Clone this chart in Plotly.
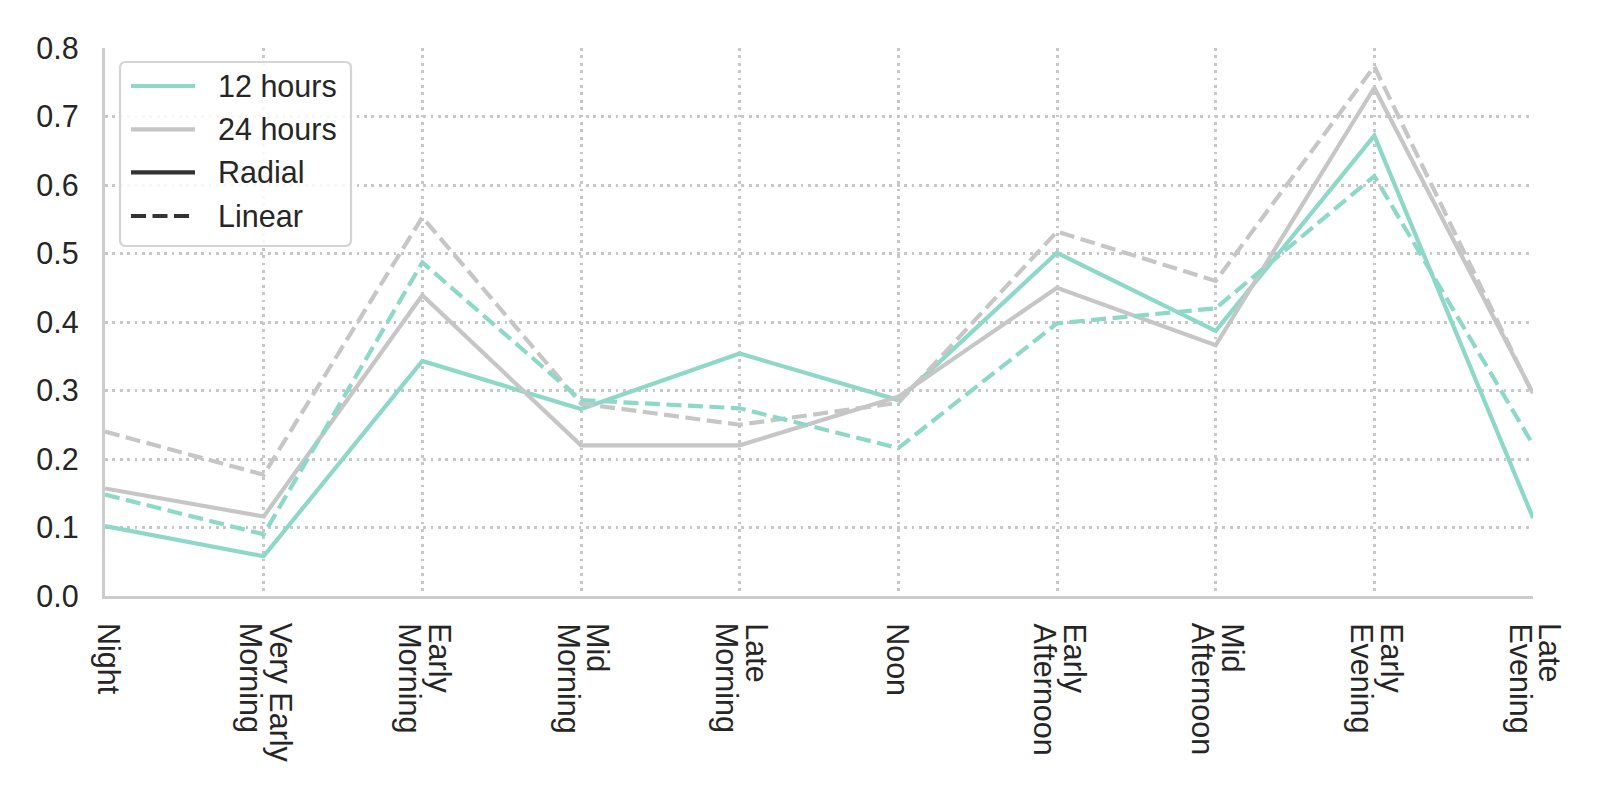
import plotly.graph_objects as go

# ---- data ----
categories = ["Night", "Very Early Morning", "Early Morning", "Mid Morning", "Late Morning",
              "Noon", "Early Afternoon", "Mid Afternoon", "Early Evening", "Late Evening"]
tick_labels = ["Night", "Very Early\nMorning", "Early\nMorning", "Mid\nMorning",
               "Late\nMorning", "Noon", "Early\nAfternoon", "Mid\nAfternoon",
               "Early\nEvening", "Late\nEvening"]

radial_12h = [0.102, 0.058, 0.343, 0.273, 0.354, 0.286, 0.501, 0.387, 0.672, 0.114]
linear_12h = [0.148, 0.090, 0.487, 0.286, 0.274, 0.216, 0.398, 0.420, 0.613, 0.221]
radial_24h = [0.157, 0.116, 0.439, 0.220, 0.220, 0.291, 0.450, 0.366, 0.742, 0.296]
linear_24h = [0.240, 0.177, 0.553, 0.281, 0.250, 0.282, 0.532, 0.460, 0.773, 0.294]

y_ticks = [0.0, 0.1, 0.2, 0.3, 0.4, 0.5, 0.6, 0.7, 0.8]

legend_labels = ["12 hours", "24 hours", "Radial", "Linear"]

# ---- style ----
TEAL = "#8dd8c6"
GRAY = "#c6c6c6"
DARK = "#333333"
TEXT = "#262626"
FONT = "Liberation Sans, Arial, sans-serif"
FS = 30.5
LW = 4.2
DASH = "15px,6.5px"

W, H = 1600, 800
ML, MR, MT, MB = 105, 67, 48, 204
PW, PH = W - ML - MR, H - MT - MB


def px2x(px):
    return (px - ML) / PW


def py2y(py):
    return (H - MB - py) / PH


fig = go.Figure()

series = [
    (radial_12h, TEAL, "solid", "12 hours, Radial"),
    (radial_24h, GRAY, "solid", "24 hours, Radial"),
    (linear_24h, GRAY, DASH, "24 hours, Linear"),
    (linear_12h, TEAL, DASH, "12 hours, Linear"),
]
for vals, col, dash, nm in series:
    fig.add_trace(go.Scatter(
        x=categories, y=vals, mode="lines", name=nm, showlegend=False,
        line=dict(color=col, width=LW, dash=dash),
    ))

# ---- custom legend (box, line samples, labels) ----
bx0, bx1, by0, by1 = 120, 351, 62, 246
r = 6
rx, ry = r / PW, r / PH
X0, X1, Y0, Y1 = px2x(bx0), px2x(bx1), py2y(by1), py2y(by0)
path = (f"M{X0+rx},{Y1} L{X1-rx},{Y1} Q{X1},{Y1} {X1},{Y1-ry} "
        f"L{X1},{Y0+ry} Q{X1},{Y0} {X1-rx},{Y0} L{X0+rx},{Y0} "
        f"Q{X0},{Y0} {X0},{Y0+ry} L{X0},{Y1-ry} Q{X0},{Y1} {X0+rx},{Y1} Z")
shapes = [dict(type="path", xref="paper", yref="paper", path=path,
               line=dict(color="#d4d4d4", width=2.2), fillcolor="rgba(255,255,255,0.85)",
               layer="above")]
annotations = []
leg_y = [86, 129.3, 172.3, 216]
leg_style = [(TEAL, "solid"), (GRAY, "solid"), (DARK, "solid"), (DARK, DASH)]
for lab, ly, (col, dash) in zip(legend_labels, leg_y, leg_style):
    shapes.append(dict(type="line", xref="paper", yref="paper",
                       x0=px2x(131), x1=px2x(195), y0=py2y(ly), y1=py2y(ly),
                       line=dict(color=col, width=LW, dash=dash), layer="above"))
    annotations.append(dict(xref="paper", yref="paper", x=px2x(216), y=py2y(ly),
                            text=lab, showarrow=False, xanchor="left", yanchor="middle",
                            font=dict(family=FONT, size=FS, color=TEXT)))

# ---- rotated x tick labels (one annotation per text line, tighter line spacing) ----
for cat, lab in zip(categories, tick_labels):
    lines = lab.split("\n")
    if len(lines) == 1:
        shifts = [4 if any(c in lab for c in "gjpqy") else 0]
    else:
        shifts = [17.5, -12.5]
    for txt, dx in zip(lines, shifts):
        annotations.append(dict(
            xref="x", yref="paper", x=cat, y=0, xshift=dx, yshift=-26,
            text=txt, textangle=90, showarrow=False,
            xanchor="center", yanchor="top", borderpad=0,
            font=dict(family=FONT, size=FS, color=TEXT)))

fig.update_layout(
    width=W, height=H,
    margin=dict(l=ML, r=MR, t=MT, b=MB, pad=0),
    paper_bgcolor="white", plot_bgcolor="white",
    font=dict(family=FONT, size=FS, color=TEXT),
    showlegend=False,
    shapes=shapes,
    annotations=annotations,
    xaxis=dict(
        type="category", categoryorder="array", categoryarray=categories,
        range=[0, len(categories) - 1],
        tickmode="array", tickvals=categories, showticklabels=False, ticks="",
        showgrid=True, gridcolor="#c8c8c8", gridwidth=2.8, griddash="2.8px,4.6px",
        showline=True, linecolor="#cccccc", linewidth=3.3,
        zeroline=False,
    ),
    yaxis=dict(
        range=[0, 0.8], tickmode="array", tickvals=y_ticks, tickformat=".1f",
        ticks="", ticklabelstandoff=17,
        showgrid=True, gridcolor="#c8c8c8", gridwidth=2.8, griddash="2.8px,4.6px",
        showline=True, linecolor="#cccccc", linewidth=3.3,
        zeroline=False, tickfont=dict(family=FONT, size=FS, color=TEXT),
    ),
)

fig.write_html("out.html")
